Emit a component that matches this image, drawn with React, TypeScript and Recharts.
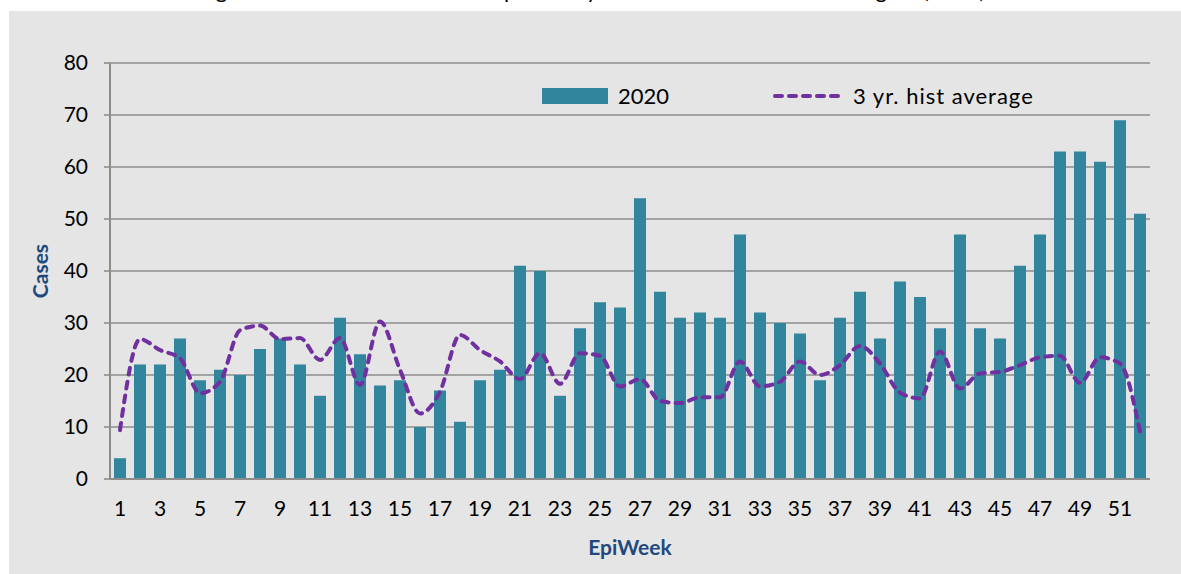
import {
  Bar,
  CartesianGrid,
  ComposedChart,
  Legend,
  Line,
  XAxis,
  YAxis,
} from "recharts";

const weeks = [
  1, 2, 3, 4, 5, 6, 7, 8, 9, 10, 11, 12, 13, 14, 15, 16, 17, 18, 19, 20, 21, 22, 23, 24, 25, 26,
  27, 28, 29, 30, 31, 32, 33, 34, 35, 36, 37, 38, 39, 40, 41, 42, 43, 44, 45, 46, 47, 48, 49, 50,
  51, 52,
];

const cases2020 = [
  4, 22, 22, 27, 19, 21, 20, 25, 27, 22, 16, 31, 24, 18, 19, 10, 17, 11, 19, 21, 41, 40, 16, 29,
  34, 33, 54, 36, 31, 32, 31, 47, 32, 30, 28, 19, 31, 36, 27, 38, 35, 29, 47, 29, 27, 41, 47, 63,
  63, 61, 69, 51,
];

const histAverage = [
  9.4, 26.9, 24.8, 23.2, 16.5, 18.7, 28.6, 29.5, 26.9, 27.1, 22.9, 27.1, 18.1, 30.3, 21, 12.6,
  16.8, 27.7, 24.8, 22.6, 19.2, 24.2, 18.3, 24.2, 23.7, 17.8, 19.2, 15, 14.6, 15.7, 15.7, 22.6,
  17.8, 18.7, 22.6, 20, 21.9, 25.6, 22.2, 16.6, 15.5, 24.5, 17.4, 20.3, 20.6, 21.9, 23.4, 23.7,
  18.5, 23.4, 22.2, 9.1,
];

const yTicks = [0, 10, 20, 30, 40, 50, 60, 70, 80];

const data = weeks.map((week, i) => ({
  week,
  cases: cases2020[i],
  avg: histAverage[i],
}));

const FONT = "Lato, 'Open Sans', sans-serif";
const GRID = "#8c8c8c";
const TEAL = "#31859c";
const PURPLE = "#7030a0";
const NAVY = "#1f497d";

function ChartLegend() {
  const text = { position: "absolute" as const, top: 0, fontSize: 22, lineHeight: "22px", color: "#000" };
  return (
    <div style={{ position: "relative", width: 520, height: 22, fontFamily: FONT }}>
      <div style={{ position: "absolute", left: 0, top: 3, width: 66, height: 16, background: TEAL }} />
      <span style={{ ...text, left: 76 }}>2020</span>
      <svg style={{ position: "absolute", left: 231, top: 0 }} width={72} height={22}>
        <line
          x1={2}
          x2={70}
          y1={11}
          y2={11}
          stroke={PURPLE}
          strokeWidth={4}
          strokeDasharray="7 7"
          strokeLinecap="round"
        />
      </svg>
      <span style={{ ...text, left: 311, letterSpacing: 1 }}>3 yr. hist average</span>
    </div>
  );
}

export default function App() {
  return (
    <div style={{ position: "absolute", left: 0, top: 0, width: 1181, height: 574, background: "#fff", overflow: "hidden" }}>
      <svg style={{ position: "absolute", left: 0, top: 0 }} width={1181} height={11}>
        <text x={198} y={-2} fontFamily={FONT} fontSize={22} fill="#000">
          Figure 3. Salmonellosis Cases reported by Week and Health Service Region (2020)
        </text>
      </svg>
      <div style={{ position: "absolute", left: 9, top: 11, width: 1172, height: 563, background: "#e5e5e5" }} />
      <div style={{ position: "absolute", left: 0, top: 0 }}>
        <ComposedChart
          width={1181}
          height={574}
          data={data}
          margin={{ top: 63, right: 31, bottom: 0, left: 20 }}
          barCategoryGap="40%"
        >
          <CartesianGrid vertical={false} stroke={GRID} strokeWidth={1.6} />
          <XAxis
            dataKey="week"
            interval={1}
            height={95}
            tickLine={false}
            tickSize={0}
            tickMargin={22}
            axisLine={{ stroke: GRID, strokeWidth: 2 }}
            tick={{ fontSize: 21, fill: "#000", fontFamily: FONT }}
            label={{
              value: "EpiWeek",
              position: "insideBottom",
              offset: 19,
              style: { fontSize: 21, fontWeight: 700, fill: NAVY, fontFamily: FONT },
            }}
          />
          <YAxis
            domain={[0, 80]}
            ticks={yTicks}
            width={90}
            tickSize={6}
            tickMargin={16}
            axisLine={{ stroke: GRID, strokeWidth: 2 }}
            tickLine={{ stroke: GRID, strokeWidth: 1.6 }}
            tick={{ fontSize: 21, fill: "#000", fontFamily: FONT }}
            label={{
              value: "Cases",
              angle: -90,
              position: "insideLeft",
              offset: 21,
              style: { fontSize: 21, fontWeight: 700, fill: NAVY, fontFamily: FONT, textAnchor: "middle" },
            }}
          />
          <Legend
            layout="horizontal"
            verticalAlign="middle"
            align="center"
            content={ChartLegend}
            wrapperStyle={{ top: 85, left: 542, width: 520, height: 22 }}
          />
          <Bar dataKey="cases" name="2020" fill={TEAL} barSize={12} isAnimationActive={false} />
          <Line
            dataKey="avg"
            name="3 yr. hist average"
            type="monotone"
            stroke={PURPLE}
            strokeWidth={4}
            strokeDasharray="7 7"
            strokeLinecap="round"
            dot={false}
            activeDot={false}
            isAnimationActive={false}
          />
        </ComposedChart>
      </div>
    </div>
  );
}
